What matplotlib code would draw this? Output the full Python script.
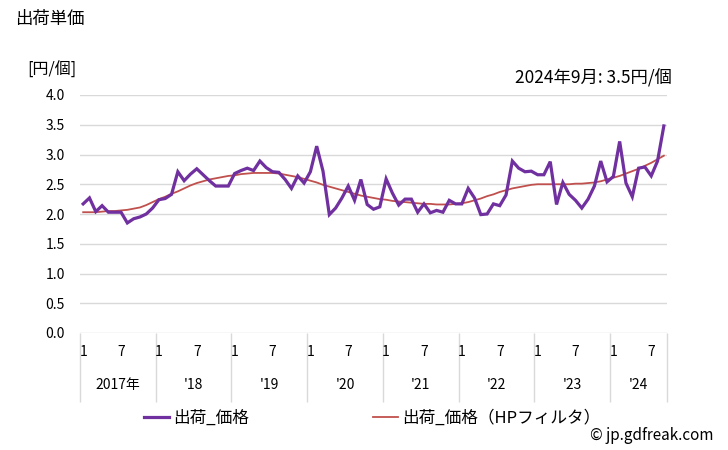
import matplotlib
matplotlib.use("Agg")
import matplotlib.pyplot as plt
import numpy as np

plt.rcParams['font.family'] = ['Noto Sans CJK JP', 'DejaVu Sans']

# ? Monthly values, Jan 2017 .. Sep 2024
years = ["2017年", "'18", "'19", "'20", "'21", "'22", "'23", "'24"]
month_labels = ["1", "7"]

price = [
    2.17, 2.27, 2.04, 2.14, 2.03, 2.03, 2.03, 1.85, 1.92, 1.95, 2.00, 2.10,
    2.24, 2.26, 2.33, 2.71, 2.56, 2.67, 2.76, 2.66, 2.56, 2.47, 2.47, 2.47,
    2.68, 2.73, 2.77, 2.73, 2.89, 2.78, 2.71, 2.70, 2.58, 2.43, 2.64, 2.52,
    2.71, 3.14, 2.72, 1.99, 2.10, 2.27, 2.47, 2.23, 2.58, 2.16, 2.08, 2.12,
    2.59, 2.35, 2.15, 2.25, 2.25, 2.03, 2.17, 2.02, 2.06, 2.03, 2.23, 2.17,
    2.17, 2.43, 2.27, 1.99, 2.00, 2.17, 2.14, 2.32, 2.89, 2.77, 2.71, 2.72,
    2.66, 2.66, 2.88, 2.16, 2.53, 2.33, 2.23, 2.10, 2.25, 2.47, 2.89, 2.54,
    2.63, 3.22, 2.52, 2.29, 2.77, 2.79, 2.64, 2.89, 3.48,
]

price_hp = [
    2.03, 2.03, 2.03, 2.04, 2.05, 2.05, 2.06, 2.07, 2.09, 2.11, 2.15, 2.20,
    2.25, 2.29, 2.34, 2.38, 2.43, 2.48, 2.52, 2.55, 2.58, 2.60, 2.62, 2.64,
    2.65, 2.67, 2.68, 2.69, 2.69, 2.69, 2.69, 2.68, 2.66, 2.64, 2.62, 2.59,
    2.56, 2.53, 2.49, 2.46, 2.43, 2.40, 2.37, 2.34, 2.31, 2.29, 2.27, 2.25,
    2.24, 2.22, 2.21, 2.20, 2.19, 2.18, 2.17, 2.17, 2.16, 2.16, 2.16, 2.17,
    2.18, 2.20, 2.23, 2.26, 2.30, 2.33, 2.37, 2.40, 2.43, 2.45, 2.47, 2.49,
    2.50, 2.50, 2.50, 2.50, 2.50, 2.50, 2.51, 2.51, 2.52, 2.53, 2.55, 2.58,
    2.61, 2.64, 2.68, 2.72, 2.76, 2.81, 2.86, 2.92, 2.98,
]

PURPLE = "#7030A0"
RED = "#C0504D"
GRID = "#d9d9d9"


def main():
    n = len(price)
    x = np.arange(n)

    fig = plt.figure(figsize=(7.28, 4.5), dpi=100)
    ax = fig.add_axes([80 / 728, 1 - 333 / 450, 587 / 728, 238 / 450])

    ax.plot(x, price, color=PURPLE, lw=2.3, solid_joinstyle="miter",
            label="出荷_価格", zorder=3)
    ax.plot(x, price_hp, color=RED, lw=1.3, label="出荷_価格（HPフィルタ）",
            zorder=2)

    # * y axis
    ax.set_ylim(0, 4)
    ax.set_yticks(np.arange(0, 4.01, 0.5))
    ax.set_yticklabels([f"{v:.1f}" for v in np.arange(0, 4.01, 0.5)],
                       fontsize=10)
    ax.yaxis.grid(True, color=GRID, lw=1)
    ax.set_axisbelow(True)
    ax.tick_params(axis="y", length=0, pad=11)
    for s in ax.spines.values():
        s.set_visible(False)

    # * x axis : year dividers as major ticks, months as minor ticks
    ax.set_xlim(-0.5, n - 0.5)
    bounds = list(np.arange(-0.5, n, 12)) + [n - 0.5]
    ax.set_xticks(bounds)
    ax.set_xticklabels([])
    ax.tick_params(axis="x", which="major", length=50, color=GRID, width=1)
    minor = [m for m in x if m % 12 in (0, 6)]
    ax.set_xticks(minor, minor=True)
    ax.set_xticklabels([month_labels[(m % 12) // 6] for m in minor],
                       minor=True, fontsize=10)
    ax.tick_params(axis="x", which="minor", length=0, pad=9)

    for k, lab in enumerate(years):
        start = k * 12 - 0.5
        end = min(start + 12, n - 0.5)
        ax.text((start + end) / 2, -0.22, lab,
                transform=ax.get_xaxis_transform(),
                ha="center", va="center", fontsize=10)

    # * texts
    fig.text(15 / 728, 1 - 19 / 450, "出荷単価", fontsize=12.5, va="center")
    fig.text(27 / 728, 1 - 70 / 450, "[円/個]", fontsize=11.5, va="center")
    fig.text(672 / 728, 1 - 78 / 450, "2024年9月: 3.5円/個", fontsize=12.5,
             va="center", ha="right")
    fig.text(714 / 728, 1 - 436 / 450, "© jp.gdfreak.com", fontsize=11,
             va="center", ha="right")

    fig.legend(loc="center", bbox_to_anchor=(372 / 728, 1 - 418 / 450),
               ncol=2, frameon=False, fontsize=12, handlelength=1.5,
               handletextpad=0.25, columnspacing=7.45)

    fig.savefig("out.png", dpi=100)


if __name__ == "__main__":
    main()
